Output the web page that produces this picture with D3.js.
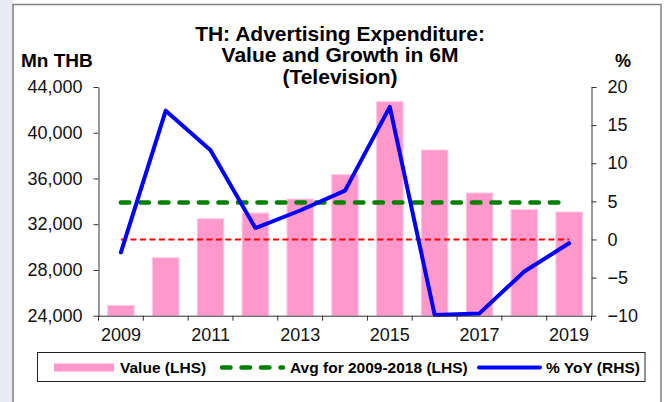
<!DOCTYPE html>
<html lang="en">
<head>
  <meta charset="UTF-8">
  <title>TH: Advertising Expenditure (Television)</title>
  <style>
    body { margin: 0; background: #fff; }
    svg { display: block; font-family: "Liberation Sans", Arial, sans-serif; }
    .tick text { fill: #111; font-size: 18px; }
    .domain, .tick line { stroke: #333; }
  </style>
</head>
<body>
  <svg width="667" height="402"></svg>
  <script src="https://d3js.org/d3.v7.min.js"></script>
  <script>
  // chart data
  const years = [2009, 2010, 2011, 2012, 2013, 2014, 2015, 2016, 2017, 2018, 2019];
  const values = [24900, 29070, 32480, 32980, 34200, 36330, 42710, 38490, 34730, 33270, 33070];
  const yoy = [-1.7, 16.9, 11.7, 1.5, 3.8, 6.4, 17.4, -9.9, -9.7, -4.2, -0.5];
  const avgValue = 33910;
  const leftTicks = [24000, 28000, 32000, 36000, 40000, 44000];
  const rightTicks = [-10, -5, 0, 5, 10, 15, 20];
  const labelYears = [2009, 2011, 2013, 2015, 2017, 2019];
  const titleLines = ["TH: Advertising Expenditure:", "Value and Growth in 6M", "(Television)"];

  const svg = d3.select("svg");
  const plotLeft = 98.5, plotRight = 591.5, plotTop = 87, plotBottom = 315.7;

  // slide background strip + outer frame
  svg.append("rect").attr("x", 0).attr("y", 0).attr("width", 13).attr("height", 402).attr("fill", "#ebebf6");
  svg.append("rect").attr("x", 13).attr("y", 4.5).attr("width", 648).attr("height", 420)
    .attr("fill", "#fff").attr("stroke", "#808080").attr("stroke-width", 1.5);

  const x = d3.scaleBand().domain(years).range([plotLeft, plotRight]).paddingInner(0.41).paddingOuter(0.205);
  const yL = d3.scaleLinear().domain([24000, 44000]).range([plotBottom, plotTop]);
  const yR = d3.scaleLinear().domain([-10, 20]).range([plotBottom, plotTop]);
  const cx = d => x(d) + x.bandwidth() / 2;

  // bars
  svg.append("g").selectAll("rect")
    .data(years)
    .join("rect")
    .attr("x", d => x(d))
    .attr("y", (d, i) => yL(values[i]))
    .attr("width", x.bandwidth())
    .attr("height", (d, i) => plotBottom - yL(values[i]))
    .attr("fill", "#ff99cc")
    .attr("stroke", "#ffc6e2")
    .attr("stroke-width", 1);

  // zero line (RHS) and average (LHS)
  svg.append("line")
    .attr("x1", cx(years[0])).attr("x2", cx(years[years.length - 1]))
    .attr("y1", yR(0)).attr("y2", yR(0))
    .attr("stroke", "#ff0000").attr("stroke-width", 2).attr("stroke-dasharray", "6,3.5");

  svg.append("line")
    .attr("x1", cx(years[0])).attr("x2", cx(years[years.length - 1]))
    .attr("y1", yL(avgValue)).attr("y2", yL(avgValue))
    .attr("stroke", "#008000").attr("stroke-width", 4.5)
    .attr("stroke-linecap", "round").attr("stroke-dasharray", "8.5,11");

  // YoY line
  const line = d3.line().x(d => cx(d[0])).y(d => yR(d[1]));
  svg.append("path")
    .datum(years.map((y, i) => [y, yoy[i]]))
    .attr("d", line)
    .attr("fill", "none")
    .attr("stroke", "#0000ff")
    .attr("stroke-width", 4)
    .attr("stroke-linejoin", "round")
    .attr("stroke-linecap", "round");

  // axes
  svg.append("g")
    .attr("transform", `translate(${plotLeft},0)`)
    .call(d3.axisLeft(yL).tickValues(leftTicks).tickFormat(d3.format(",")).tickSize(5).tickSizeOuter(0).tickPadding(11));

  svg.append("g")
    .attr("transform", `translate(${plotRight},0)`)
    .call(d3.axisRight(yR).tickValues(rightTicks).tickSize(5).tickSizeOuter(0).tickPadding(11));

  const xAxis = svg.append("g")
    .attr("transform", `translate(0,${plotBottom})`)
    .call(d3.axisBottom(x).tickValues(labelYears).tickSize(0).tickPadding(13).tickSizeOuter(0));
  xAxis.select(".domain").attr("d", `M${plotLeft},0.5H${plotRight}`);
  // category boundary ticks
  xAxis.append("g").selectAll("line")
    .data(d3.range(years.length + 1))
    .join("line")
    .attr("x1", i => plotLeft + i * x.step()).attr("x2", i => plotLeft + i * x.step())
    .attr("y1", 0).attr("y2", 5)
    .attr("stroke", "#333");

  // title and axis titles
  svg.append("text")
    .attr("text-anchor", "middle")
    .attr("font-weight", "bold").attr("font-size", 21)
    .selectAll("tspan")
    .data(titleLines)
    .join("tspan")
    .attr("x", 340)
    .attr("y", (d, i) => 40.5 + i * 21.5)
    .text(d => d);

  svg.append("text").attr("x", 21).attr("y", 67)
    .attr("font-weight", "bold").attr("font-size", 19).text("Mn THB");
  svg.append("text").attr("x", 623).attr("y", 67).attr("text-anchor", "middle")
    .attr("font-weight", "bold").attr("font-size", 18).text("%");

  // legend
  const lg = svg.append("g");
  lg.append("rect").attr("x", 37.5).attr("y", 352.5).attr("width", 607.5).attr("height", 29)
    .attr("fill", "#fff").attr("stroke", "#222").attr("stroke-width", 1);
  const ly = 367.5;
  lg.append("rect").attr("x", 54).attr("y", ly - 4).attr("width", 60).attr("height", 8).attr("fill", "#ff99cc");
  lg.append("line").attr("x1", 222).attr("x2", 283).attr("y1", ly).attr("y2", ly)
    .attr("stroke", "#008000").attr("stroke-width", 4.5)
    .attr("stroke-linecap", "round").attr("stroke-dasharray", "8.5,11");
  lg.append("line").attr("x1", 479).attr("x2", 540).attr("y1", ly).attr("y2", ly)
    .attr("stroke", "#0000ff").attr("stroke-width", 4).attr("stroke-linecap", "round");
  const legendText = [[120, "Value (LHS)"], [290, "Avg for 2009-2018 (LHS)"], [546, "% YoY (RHS)"]];
  lg.selectAll("text.lbl")
    .data(legendText)
    .join("text")
    .attr("x", d => d[0]).attr("y", ly + 5.5)
    .attr("font-weight", "bold").attr("font-size", 15.5)
    .text(d => d[1]);
  </script>
</body>
</html>
